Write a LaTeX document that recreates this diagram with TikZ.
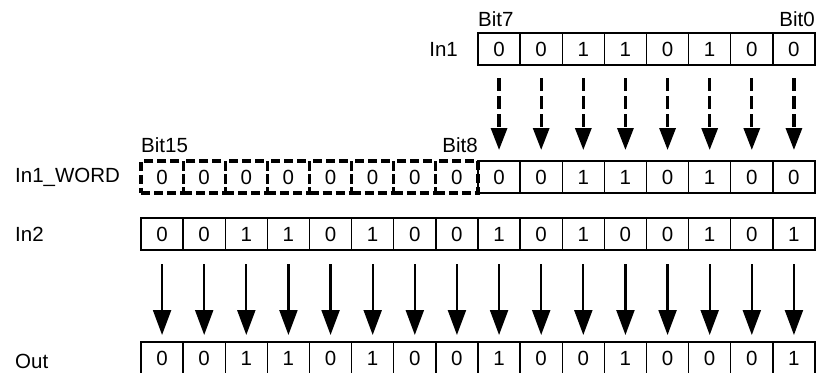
\documentclass[tikz,border=0pt]{standalone}
\usepackage{fontspec}
\setmainfont{Liberation Sans}
\usepackage{tikz}
\usetikzlibrary{positioning,arrows.meta}
\tikzset{
  bitcell/.style={draw,line width=1.4pt,minimum width=42.125pt,minimum height=32pt,inner sep=0pt,outer sep=0pt,anchor=north west,font=\fontsize{20.5}{20.5}\selectfont},
  padcell/.style={bitcell,line width=3.2pt,dash pattern=on 9pt off 4pt},
  rowlabel/.style={inner sep=0pt,font=\fontsize{20.5}{20.5}\selectfont},
  copyflow/.style={-{Triangle[length=22pt,width=16pt]},line width=3.2pt,dash pattern=on 13pt off 5pt},
  orflow/.style={-{Triangle[length=25pt,width=18pt]},line width=2.2pt}
}

\begin{document}
\begin{tikzpicture}[x=1pt,y=-1pt]
  \useasboundingbox (0,0) rectangle (821,372);
  % In1 byte
  \foreach \v [count=\j from 8] in {0,0,1,1,0,1,0,0}
    \node[bitcell] (in1-\j) at ({141+\j*42.125},33) {\v};
  % In1 widened to a word
  \foreach \v [count=\j from 0] in {0,0,0,0,0,0,0,0}
    \node[padcell] (word-\j) at ({141+\j*42.125},161) {\v};
  \foreach \v [count=\j from 8] in {0,0,1,1,0,1,0,0}
    \node[bitcell] (word-\j) at ({141+\j*42.125},161) {\v};
  % In2 and result
  \foreach \v [count=\j from 0] in {0,0,1,1,0,1,0,0,1,0,1,0,0,1,0,1}
    \node[bitcell] (in2-\j) at ({141+\j*42.125},218) {\v};
  \foreach \v [count=\j from 0] in {0,0,1,1,0,1,0,0,1,0,0,1,0,0,0,1}
    \node[bitcell] (out-\j) at ({141+\j*42.125},342) {\v};

  \node[rowlabel,left=20pt of in1-8] (lin1) {In1};
  \node[rowlabel,anchor=west] (lword) at (15,177) {In1\_WORD};
  \node[rowlabel,anchor=west] (lin2) at (15,234) {In2};
  \node[rowlabel,anchor=west] (lout) at (15,361) {Out};

  \node[rowlabel,anchor=south west] (b7) at ([yshift=6pt]in1-8.north west) {Bit7};
  \node[rowlabel,anchor=south east] (b0) at ([yshift=6pt]in1-15.north east) {Bit0};
  \node[rowlabel,anchor=south west] (b15) at ([yshift=8pt]word-0.north west) {Bit15};
  \node[rowlabel,anchor=south east] (b8) at ([yshift=8pt]word-7.north east) {Bit8};

  \foreach \j in {8,...,15}
    \draw[copyflow] ([yshift=-13pt]in1-\j.south) -- ([yshift=11pt]word-\j.north);
  \foreach \j in {0,...,15}
    \draw[orflow] ([yshift=-14pt]in2-\j.south) -- ([yshift=7pt]out-\j.north);
\end{tikzpicture}
\end{document}
